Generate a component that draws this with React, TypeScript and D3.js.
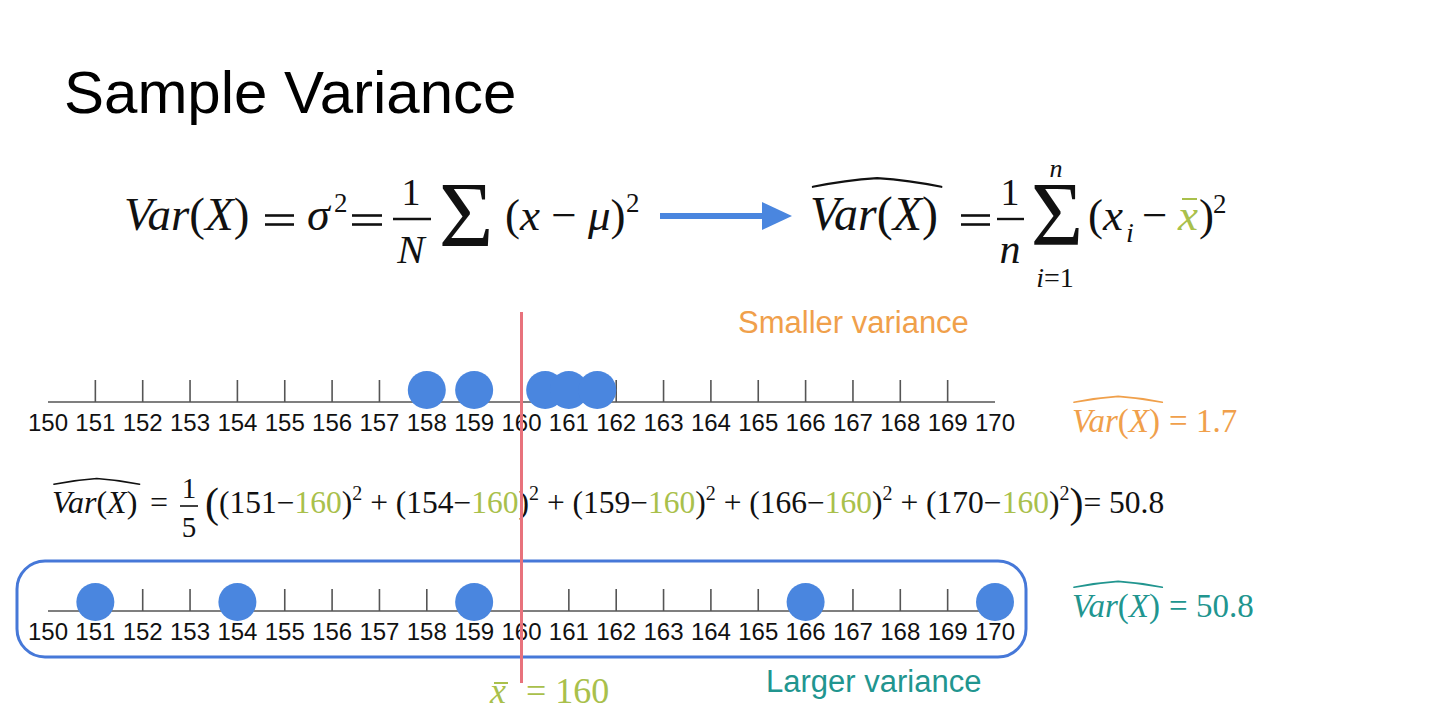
import React from "react";
import * as d3 from "d3";

// ---------- data ----------
const TICK_VALUES = [150, 151, 152, 153, 154, 155, 156, 157, 158, 159, 160, 161, 162, 163, 164, 165, 166, 167, 168, 169, 170];
const SMALL_SAMPLE = [158, 159, 160.5, 161, 161.6];
const LARGE_SAMPLE = [151, 154, 159, 166, 170];
const SAMPLE_MEAN = 160;
const SMALL_VARIANCE = 1.7;
const LARGE_VARIANCE = 50.8;
const SAMPLE_SIZE = 5;

// ---------- style ----------
const W = 1440;
const H = 710;
const SERIF = "'Liberation Serif', 'Times New Roman', Times, serif";
const SANS = "'Liberation Sans', Arial, Helvetica, sans-serif";
const INK = "#111111";
const BLUE = "#4a86df";
const BOX_BLUE = "#4678d8";
const ORANGE = "#f0a04b";
const TEAL = "#21958f";
const GREEN = "#a9c04b";
const RED = "#e8727c";

const x = d3.scaleLinear().domain([150, 170]).range([48, 995]);

function Hat({ x0, x1, top, end, color, w = 2 }: any) {
  const m = (x0 + x1) / 2;
  const d = `M${x0},${end} Q${(x0 + m) / 2},${top + (end - top) * 0.25} ${m},${top} Q${(m + x1) / 2},${top + (end - top) * 0.25} ${x1},${end}`;
  return <path d={d} fill="none" stroke={color} strokeWidth={w} strokeLinecap="round" />;
}

function VarX({ x0, y, size, fill, hat = true }: any) {
  const width = 2.777 * size;
  return (
    <g>
      <text x={x0} y={y} fontFamily={SERIF} fontSize={size} fill={fill}>
        <tspan fontStyle="italic">Var</tspan>
        <tspan>(</tspan>
        <tspan fontStyle="italic">X</tspan>
        <tspan>)</tspan>
      </text>
      {hat && (
        <Hat x0={x0 + 0.06 * size} x1={x0 + width - 0.04 * size} top={y - 1.08 * size} end={y - 0.9 * size} color={fill} w={Math.max(1.6, size / 22)} />
      )}
    </g>
  );
}

function Equals({ x0, x1, y, color = INK, w = 2.6 }: any) {
  return (
    <g stroke={color} strokeWidth={w}>
      <line x1={x0} x2={x1} y1={y - 14.5} y2={y - 14.5} />
      <line x1={x0} x2={x1} y1={y - 5.5} y2={y - 5.5} />
    </g>
  );
}

function NumberLine({ data, lineY, dotY }: any) {
  const inner = TICK_VALUES.slice(1, -1);
  return (
    <g>
      <line x1={x(150)} x2={x(170)} y1={lineY} y2={lineY} stroke="#555" strokeWidth={1.6} />
      {inner.map((t) => (
        <line key={t} x1={x(t)} x2={x(t)} y1={lineY - 22} y2={lineY} stroke="#555" strokeWidth={1.6} />
      ))}
      {TICK_VALUES.map((t) => (
        <text key={t} x={x(t)} y={lineY + 29} textAnchor="middle" fontFamily={SANS} fontSize={24} fill={INK}>
          {t}
        </text>
      ))}
      {data.map((v: number, i: number) => (
        <circle key={i} cx={x(v)} cy={dotY} r={19} fill={BLUE} />
      ))}
    </g>
  );
}

export default function App() {
  const mx = x(SAMPLE_MEAN);
  return (
    <svg width={W} height={H} viewBox={`0 0 ${W} ${H}`} style={{ position: "absolute", left: 0, top: 0, background: "#fff" }}>
      <rect width={W} height={H} fill="#fff" />
      {/* title */}
      <text x={64} y={113} fontFamily={SANS} fontSize={60} fill="#000">Sample Variance</text>

      {/* population formula */}
      <VarX x0={124} y={230} size={47} fill={INK} hat={false} />
      <Equals x0={265} x1={294} y={230} />
      <text x={307} y={230} fontFamily={SERIF} fontSize={46} fontStyle="italic" fill={INK}>σ</text>
      <text x={334} y={212} fontFamily={SERIF} fontSize={27} fill={INK}>2</text>
      <Equals x0={352} x1={382} y={230} />
      <text x={411} y={205} textAnchor="middle" fontFamily={SERIF} fontSize={38} fill={INK}>1</text>
      <line x1={393} x2={431} y1={219} y2={219} stroke={INK} strokeWidth={2.4} />
      <text x={411} y={263} textAnchor="middle" fontFamily={SERIF} fontSize={41} fontStyle="italic" fill={INK}>N</text>
      <text x={466} y={246} textAnchor="middle" fontFamily={SERIF} fontSize={94} fill={INK}>Σ</text>
      <text x={505} y={230} fontFamily={SERIF} fontSize={45} fill={INK}>
        <tspan>(</tspan><tspan fontStyle="italic">x</tspan><tspan> − </tspan><tspan fontStyle="italic">μ</tspan><tspan>)</tspan>
      </text>
      <text x={626} y={212} fontFamily={SERIF} fontSize={27} fill={INK}>2</text>

      {/* arrow */}
      <line x1={660} x2={766} y1={216} y2={216} stroke={BLUE} strokeWidth={6} />
      <path d="M762,202 L792,216 L762,230 Z" fill={BLUE} />

      {/* sample formula */}
      <VarX x0={810} y={230} size={48} fill={INK} hat={true} />
      <Equals x0={961} x1={990} y={230} />
      <text x={1010} y={205} textAnchor="middle" fontFamily={SERIF} fontSize={38} fill={INK}>1</text>
      <line x1={997} x2={1024} y1={219} y2={219} stroke={INK} strokeWidth={2.4} />
      <text x={1010} y={263} textAnchor="middle" fontFamily={SERIF} fontSize={42} fontStyle="italic" fill={INK}>n</text>
      <text x={1056} y={177} textAnchor="middle" fontFamily={SERIF} fontSize={26} fontStyle="italic" fill={INK}>n</text>
      <text x={1057} y={245} textAnchor="middle" fontFamily={SERIF} fontSize={90} fill={INK}>Σ</text>
      <text x={1055} y={287} textAnchor="middle" fontFamily={SERIF} fontSize={28} fill={INK}>
        <tspan fontStyle="italic">i</tspan><tspan>=1</tspan>
      </text>
      <text x={1088} y={230} fontFamily={SERIF} fontSize={45} fill={INK}>
        <tspan>(</tspan><tspan fontStyle="italic">x</tspan>
      </text>
      <text x={1126} y={242} fontFamily={SERIF} fontSize={28} fontStyle="italic" fill={INK}>i</text>
      <text x={1142} y={230} fontFamily={SERIF} fontSize={45} fill={INK}>−</text>
      <text x={1178} y={230} fontFamily={SERIF} fontSize={45} fontStyle="italic" fill={GREEN}>x</text>
      <line x1={1182} x2={1197} y1={199} y2={199} stroke={GREEN} strokeWidth={2} />
      <text x={1199} y={230} fontFamily={SERIF} fontSize={45} fill={INK}>)</text>
      <text x={1213} y={213} fontFamily={SERIF} fontSize={27} fill={INK}>2</text>

      {/* smaller variance line */}
      <text x={738} y={333} fontFamily={SANS} fontSize={31} fill={ORANGE}>Smaller variance</text>
      <NumberLine data={SMALL_SAMPLE} lineY={402} dotY={390} />
      <VarX x0={1072} y={432} size={33} fill={ORANGE} hat={true} />
      <text x={1169} y={432} fontFamily={SERIF} fontSize={33} fill={ORANGE}>= {SMALL_VARIANCE}</text>

      {/* worked formula */}
      <VarX x0={52} y={513} size={32} fill={INK} hat={true} />
      <text x={150} y={513} fontFamily={SERIF} fontSize={32} fill={INK}>=</text>
      <text x={189} y={498} textAnchor="middle" fontFamily={SERIF} fontSize={29} fill={INK}>1</text>
      <line x1={180} x2={198} y1={506} y2={506} stroke={INK} strokeWidth={1.6} />
      <text x={189} y={537} textAnchor="middle" fontFamily={SERIF} fontSize={29} fill={INK}>{SAMPLE_SIZE}</text>
      <text x={205} y={517} fontFamily={SERIF} fontSize={31.5} fill={INK}>
        <tspan fontSize={42}>(</tspan>
        {LARGE_SAMPLE.map((v, i) => (
          <React.Fragment key={i}>
            <tspan dy={i === 0 ? -4 : 13}>{(i === 0 ? "" : " + ") + "(" + v + "−"}</tspan>
            <tspan fill={GREEN}>{SAMPLE_MEAN}</tspan>
            <tspan>)</tspan>
            <tspan dy={-13} fontSize={20}>2</tspan>
          </React.Fragment>
        ))}
        <tspan dy={17} fontSize={42}>)</tspan>
        <tspan dy={-4}>= {LARGE_VARIANCE}</tspan>
      </text>

      {/* larger variance line */}
      <rect x={17} y={561} width={1009} height={96} rx={28} ry={28} fill="none" stroke={BOX_BLUE} strokeWidth={3} />
      <NumberLine data={LARGE_SAMPLE} lineY={611} dotY={602} />
      <VarX x0={1072} y={617} size={33} fill={TEAL} hat={true} />
      <text x={1169} y={617} fontFamily={SERIF} fontSize={33} fill={TEAL}>= {LARGE_VARIANCE}</text>
      <text x={766} y={692} fontFamily={SANS} fontSize={31} fill={TEAL}>Larger variance</text>

      {/* mean line */}
      <line x1={mx} x2={mx} y1={312} y2={683} stroke={RED} strokeWidth={3} />
      <text x={490} y={703} fontFamily={SERIF} fontSize={36} fontStyle="italic" fill={GREEN}>x</text>
      <line x1={494} x2={508} y1={683} y2={683} stroke={GREEN} strokeWidth={2} />
      <text x={526} y={703} fontFamily={SERIF} fontSize={36} fill={GREEN}>= {SAMPLE_MEAN}</text>
    </svg>
  );
}
